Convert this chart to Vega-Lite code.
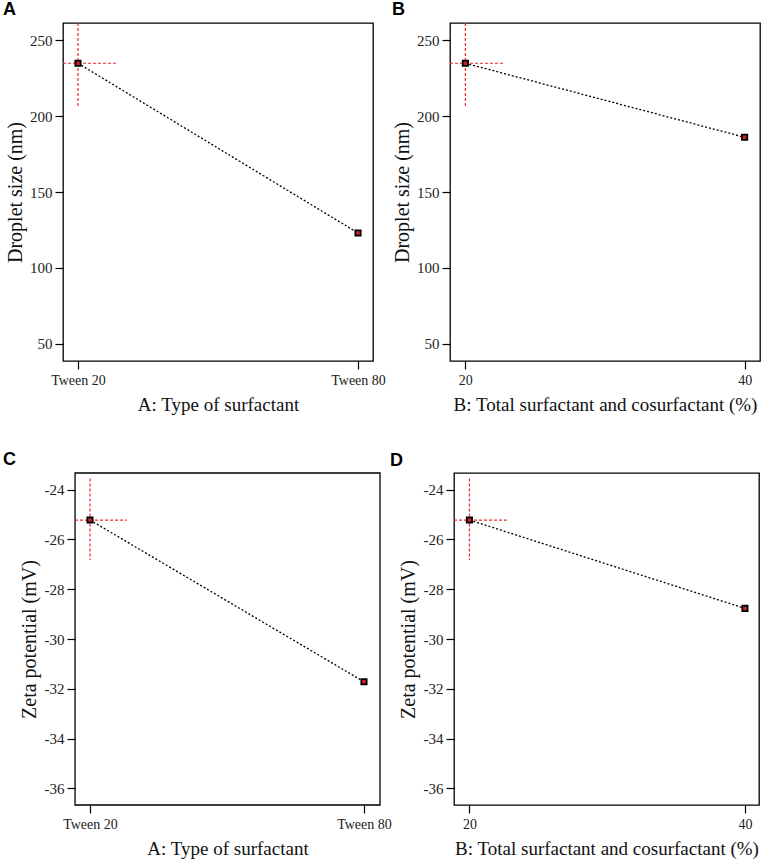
{
  "$schema": "https://vega.github.io/schema/vega-lite/v6.json",
  "padding": {"left": 2, "top": 0, "right": 0, "bottom": 0},
  "background": "white",
  "config": {
    "view": {"stroke": "black", "strokeWidth": 1.3},
    "axis": {
      "domain": false,
      "grid": false,
      "ticks": true,
      "tickColor": "black",
      "tickSize": 8,
      "tickWidth": 1.2,
      "labelFont": "Liberation Serif",
      "labelColor": "#222222",
      "titleFont": "Liberation Serif",
      "titleFontWeight": "normal",
      "titleColor": "#111111",
      "titleFontSize": 19
    },
    "axisX": {"labelFontSize": 14, "labelPadding": 4, "titlePadding": 8},
    "axisY": {"labelFontSize": 15, "labelPadding": 3, "titleFontSize": 20, "labelExpr": "'' + datum.value"},
    "title": {
      "font": "Liberation Sans",
      "fontSize": 18,
      "fontWeight": "bold",
      "color": "black",
      "anchor": "start",
      "frame": "group",
      "baseline": "alphabetic",
      "offset": 3
    }
  },
  "datasets": {
    "droplet_type": [
      {"level": -1, "droplet": 234.7},
      {"level": 1, "droplet": 123.0}
    ],
    "droplet_type_cross": [
      {"level": -1.107, "level_end": -0.729, "droplet": 234.7, "droplet_end": 234.7},
      {"level": -1, "level_end": -1, "droplet": 261.2, "droplet_end": 206.6}
    ],
    "droplet_total": [
      {"pct": 20, "droplet": 234.7},
      {"pct": 40, "droplet": 186.0}
    ],
    "droplet_total_cross": [
      {"pct": 18.9, "pct_end": 22.72, "droplet": 234.7, "droplet_end": 234.7},
      {"pct": 20, "pct_end": 20, "droplet": 261.2, "droplet_end": 206.6}
    ],
    "zeta_type": [
      {"level": -1, "zeta": -25.22},
      {"level": 1, "zeta": -31.72}
    ],
    "zeta_type_cross": [
      {"level": -1.109, "level_end": -0.731, "zeta": -25.22, "zeta_end": -25.22},
      {"level": -1, "level_end": -1, "zeta": -23.55, "zeta_end": -26.83}
    ],
    "zeta_total": [
      {"pct": 20, "zeta": -25.22},
      {"pct": 40, "zeta": -28.77}
    ],
    "zeta_total_cross": [
      {"pct": 18.88, "pct_end": 22.71, "zeta": -25.22, "zeta_end": -25.22},
      {"pct": 20, "pct_end": 20, "zeta": -23.55, "zeta_end": -26.83}
    ]
  },
  "columns": 1,
  "align": "none",
  "spacing": 36,
  "concat": [
    {
      "columns": 2,
      "align": "none",
      "spacing": 5,
      "concat": [
        {
          "title": {"text": "A", "dx": -60},
          "width": 310,
          "height": 338,
          "encoding": {
            "x": {
              "field": "level",
              "type": "quantitative",
              "scale": {"domain": [-1.107, 1.107], "nice": false, "zero": false},
              "axis": {
                "values": [-1, 1],
                "labelExpr": "datum.value < 0 ? 'Tween 20' : 'Tween 80'",
                "title": "A: Type of surfactant"
              }
            },
            "y": {
              "field": "droplet",
              "type": "quantitative",
              "scale": {"domain": [38.8, 261.2], "nice": false, "zero": false},
              "axis": {"values": [50, 100, 150, 200, 250], "title": "Droplet size  (nm)", "titlePadding": 4}
            }
          },
          "layer": [
            {
              "data": {"name": "droplet_type"},
              "mark": {"type": "line", "color": "black", "strokeWidth": 1.3, "strokeDash": [2, 2]}
            },
            {
              "data": {"name": "droplet_type_cross"},
              "mark": {"type": "rule", "color": "#ee2b2b", "strokeWidth": 1.2, "strokeDash": [3, 2]},
              "encoding": {
                "x2": {"field": "level_end"},
                "y2": {"field": "droplet_end"}
              }
            },
            {
              "data": {"name": "droplet_type"},
              "mark": {"type": "point", "shape": "square", "filled": true, "size": 28, "color": "#d0202a", "stroke": "black", "strokeWidth": 1.8, "opacity": 1}
            }
          ]
        },
        {
          "title": {"text": "B", "dx": -58},
          "width": 310,
          "height": 338,
          "encoding": {
            "x": {
              "field": "pct",
              "type": "quantitative",
              "scale": {"domain": [18.9, 41.1], "nice": false, "zero": false},
              "axis": {"values": [20, 40], "title": "B: Total surfactant and cosurfactant  (%)"}
            },
            "y": {
              "field": "droplet",
              "type": "quantitative",
              "scale": {"domain": [38.8, 261.2], "nice": false, "zero": false},
              "axis": {"values": [50, 100, 150, 200, 250], "title": "Droplet size  (nm)", "titlePadding": 4}
            }
          },
          "layer": [
            {
              "data": {"name": "droplet_total"},
              "mark": {"type": "line", "color": "black", "strokeWidth": 1.3, "strokeDash": [2, 2]}
            },
            {
              "data": {"name": "droplet_total_cross"},
              "mark": {"type": "rule", "color": "#ee2b2b", "strokeWidth": 1.2, "strokeDash": [3, 2]},
              "encoding": {
                "x2": {"field": "pct_end"},
                "y2": {"field": "droplet_end"}
              }
            },
            {
              "data": {"name": "droplet_total"},
              "mark": {"type": "point", "shape": "square", "filled": true, "size": 28, "color": "#d0202a", "stroke": "black", "strokeWidth": 1.8, "opacity": 1}
            }
          ]
        }
      ]
    },
    {
      "columns": 2,
      "align": "none",
      "spacing": -3,
      "concat": [
        {
          "title": {"text": "C", "dx": -60},
          "width": 317,
          "height": 332,
          "view": {"stroke": null},
          "encoding": {
            "x": {
              "field": "level",
              "type": "quantitative",
              "scale": {"domain": [-1.197, 1.117], "nice": false, "zero": false},
              "axis": {
                "values": [-1, 1],
                "labelExpr": "datum.value < 0 ? 'Tween 20' : 'Tween 80'",
                "title": "A: Type of surfactant",
                "titleX": 164.5
              }
            },
            "y": {
              "field": "zeta",
              "type": "quantitative",
              "scale": {"domain": [-36.67, -23.33], "nice": false, "zero": false},
              "axis": {"values": [-36, -34, -32, -30, -28, -26, -24], "title": "Zeta potential (mV)", "titlePadding": 5, "offset": -12}
            }
          },
          "layer": [
            {
              "data": {"name": "zeta_type"},
              "transform": [{"filter": "datum.level < 0"}],
              "mark": {"type": "rect", "fill": "transparent", "stroke": "black", "strokeWidth": 1.3},
              "encoding": {
                "x": {"datum": -1.109, "type": "quantitative"},
                "x2": {"datum": 1.117},
                "y": {"datum": -36.67, "type": "quantitative"},
                "y2": {"datum": -23.33}
              }
            },
            {
              "data": {"name": "zeta_type"},
              "mark": {"type": "line", "color": "black", "strokeWidth": 1.3, "strokeDash": [2, 2]}
            },
            {
              "data": {"name": "zeta_type_cross"},
              "mark": {"type": "rule", "color": "#ee2b2b", "strokeWidth": 1.2, "strokeDash": [3, 2]},
              "encoding": {
                "x2": {"field": "level_end"},
                "y2": {"field": "zeta_end"}
              }
            },
            {
              "data": {"name": "zeta_type"},
              "mark": {"type": "point", "shape": "square", "filled": true, "size": 28, "color": "#d0202a", "stroke": "black", "strokeWidth": 1.8, "opacity": 1}
            }
          ]
        },
        {
          "title": {"text": "D", "dx": -64},
          "width": 305,
          "height": 332,
          "encoding": {
            "x": {
              "field": "pct",
              "type": "quantitative",
              "scale": {"domain": [18.88, 41.02], "nice": false, "zero": false},
              "axis": {"values": [20, 40], "title": "B: Total surfactant and cosurfactant  (%)"}
            },
            "y": {
              "field": "zeta",
              "type": "quantitative",
              "scale": {"domain": [-36.67, -23.33], "nice": false, "zero": false},
              "axis": {"values": [-36, -34, -32, -30, -28, -26, -24], "title": "Zeta potential (mV)", "titlePadding": 5}
            }
          },
          "layer": [
            {
              "data": {"name": "zeta_total"},
              "mark": {"type": "line", "color": "black", "strokeWidth": 1.3, "strokeDash": [2, 2]}
            },
            {
              "data": {"name": "zeta_total_cross"},
              "mark": {"type": "rule", "color": "#ee2b2b", "strokeWidth": 1.2, "strokeDash": [3, 2]},
              "encoding": {
                "x2": {"field": "pct_end"},
                "y2": {"field": "zeta_end"}
              }
            },
            {
              "data": {"name": "zeta_total"},
              "mark": {"type": "point", "shape": "square", "filled": true, "size": 28, "color": "#d0202a", "stroke": "black", "strokeWidth": 1.8, "opacity": 1}
            }
          ]
        }
      ]
    }
  ]
}
